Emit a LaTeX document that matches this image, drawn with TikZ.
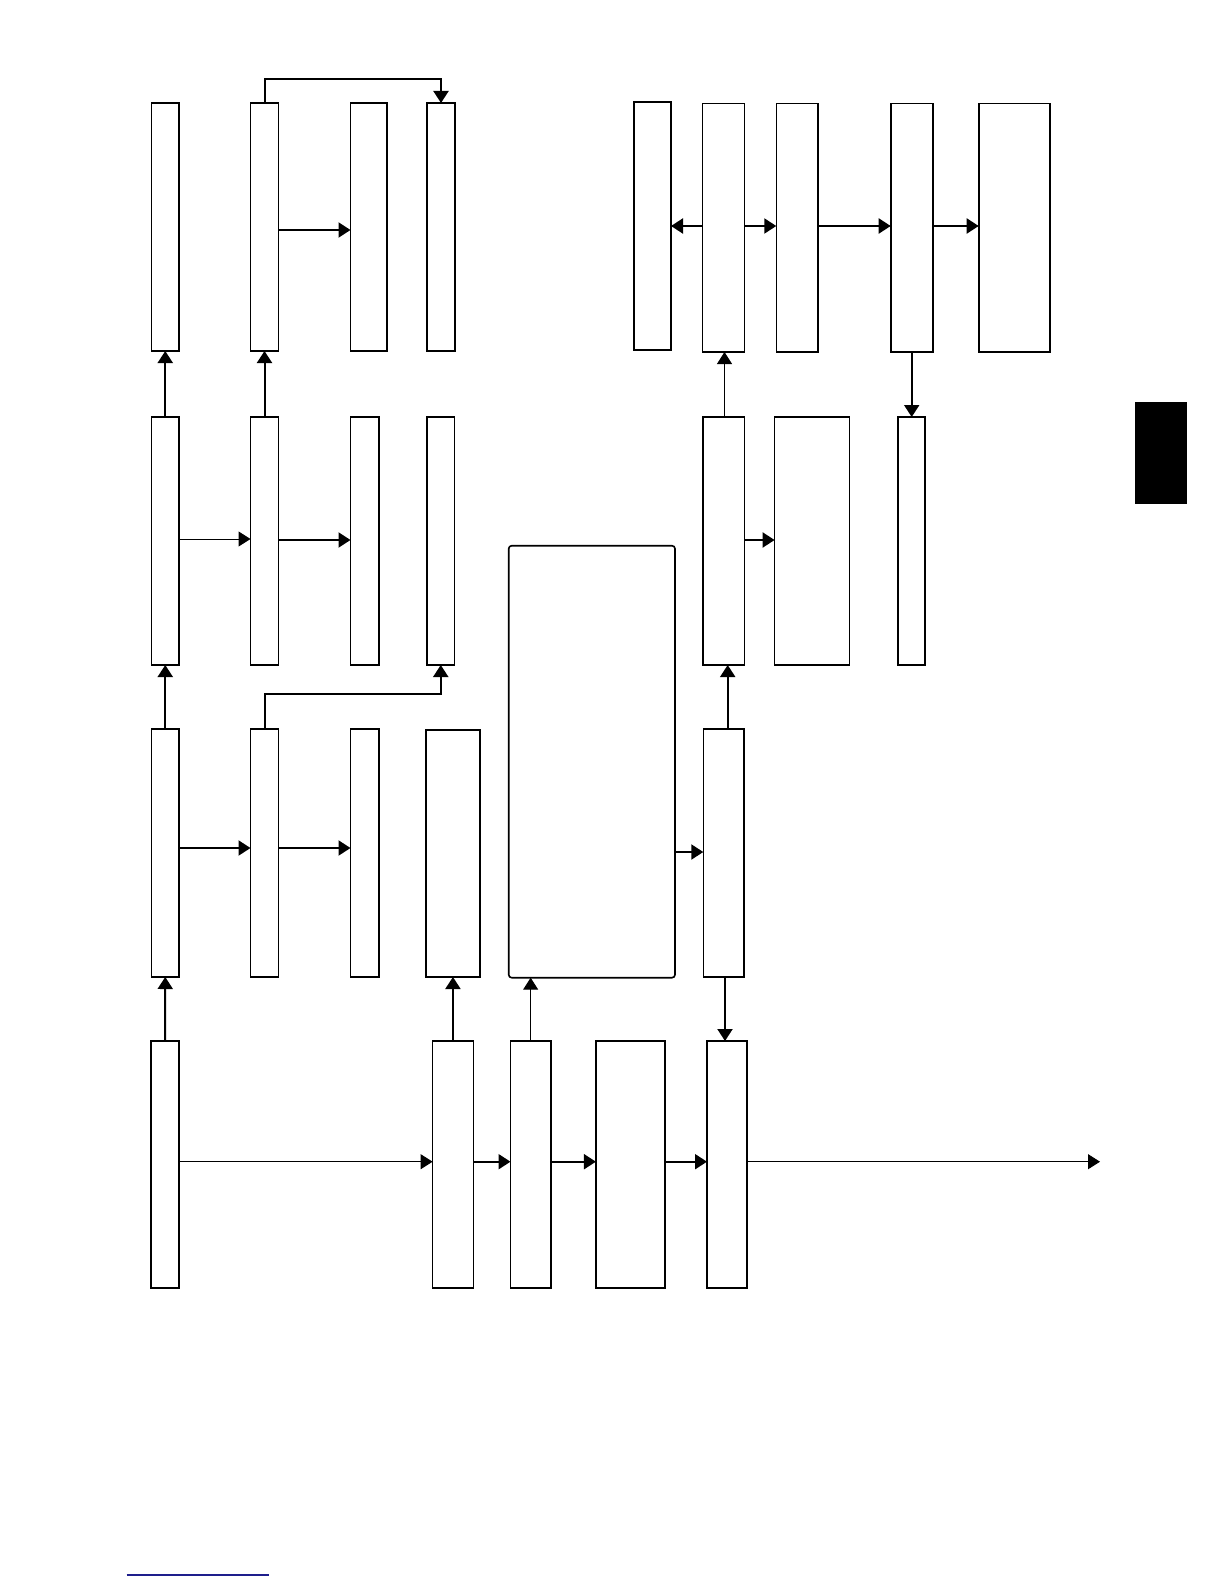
\documentclass[tikz,border=0pt]{standalone}
\usetikzlibrary{arrows.meta}
\tikzset{
  blk/.style={draw=black, line width=0.8pt, fill=white, inner sep=0pt, outer sep=0pt},
  thk/.style={line width=1pt, -{Triangle[length=6pt,width=7.5pt]}},
  thn/.style={line width=0.5pt, -{Triangle[length=6pt,width=7.5pt]}},
}
\newcommand{\bx}[6][]{%
  \node[blk,#1, minimum width={(#5-#3)*0.5pt}, minimum height={(#6-#4)*0.5pt}]
    (#2) at ({(#3+#5)/2},{(#4+#6)/2}) {};}
\begin{document}
\begin{tikzpicture}[x=0.5pt,y=-0.5pt]
\useasboundingbox (0,0) rectangle (1224,1584);
% Row 1
\bx{r1a}{151.5}{103}{179}{351}
\bx{r1b}{250.5}{103}{278.5}{351}
\bx{r1c}{350.5}{103}{387}{351}
\bx{r1d}{427}{103}{455}{351}
\bx{r1e}{634}{102}{671}{350}
\bx{r1f}{702.5}{103.5}{744.3}{352}
\bx{r1g}{776.3}{103.5}{818}{352}
\bx{r1h}{890.7}{103.5}{932.7}{352}
\bx{r1i}{978.7}{103.5}{1049.7}{352}
% Row 2
\bx{r2a}{151.5}{417}{179}{665}
\bx{r2b}{250.5}{417}{278.5}{665}
\bx{r2c}{350.5}{417}{378.7}{665}
\bx{r2d}{427}{417}{454.5}{665}
\bx{r2e}{702.7}{417}{744.5}{665}
\bx{r2f}{774.6}{417}{849.3}{665}
\bx{r2g}{897.8}{417}{925.1}{665}
% Row 3
\bx{r3a}{151.5}{729}{179}{977}
\bx{r3b}{250.5}{729}{278.5}{977}
\bx{r3c}{350.5}{729}{378.7}{977}
\bx{r3d}{426.2}{730}{479.7}{977}
\bx[rounded corners=1.5pt]{big}{508.7}{545.7}{675}{977.7}
\bx{r3e}{703.3}{729}{743.7}{977}
% Row 4
\bx{r4a}{151.1}{1041}{179.1}{1288}
\bx{r4b}{432.6}{1041}{473.3}{1288}
\bx{r4c}{510.5}{1041}{550.8}{1288}
\bx{r4d}{595.9}{1041}{665.1}{1288}
\bx{r4e}{707}{1041}{747}{1288}
% side tab
\fill[black] (1135,402) rectangle (1186.7,503.5);
% bottom blue rule
\draw[line width=0.6pt, draw={rgb,255:red,30;green,30;blue,140}] (126.7,1575) -- (269,1575);
\coordinate (outend) at (1100,1161.7);

% vertical arrows, left block
\draw[thk] (r4a.north) -- (r3a.south);
\draw[thk] (r3a.north) -- (r2a.south);
\draw[thk] (r2a.north) -- (r1a.south);
\draw[thk] (r2b.north) -- (r1b.south);
\draw[thk] (r1b.north) -- (r1b.north |- 0,79) -| (r1d.north);
\draw[thk] (r3b.north) -- (r3b.north |- 0,694) -| (r2d.south);
% horizontal arrows, left block
\draw[thk] (r1b.east |- 0,230) -- (r1c.west |- 0,230);
\draw[thn] (r2a.east |- 0,539) -- (r2b.west |- 0,539);
\draw[thk] (r2b.east |- 0,540) -- (r2c.west |- 0,540);
\draw[thk] (r3a.east |- 0,848) -- (r3b.west |- 0,848);
\draw[thk] (r3b.east |- 0,848) -- (r3c.west |- 0,848);
% bottom row
\draw[thn] (r4a.east |- 0,1161.7) -- (r4b.west |- 0,1161.7);
\draw[thk] (r4b.east |- 0,1161.7) -- (r4c.west |- 0,1161.7);
\draw[thk] (r4c.east |- 0,1161.7) -- (r4d.west |- 0,1161.7);
\draw[thk] (r4d.east |- 0,1161.7) -- (r4e.west |- 0,1161.7);
\draw[thn] (r4e.east |- 0,1161.7) -- (outend);
\draw[thk] (r4b.north) -- (r3d.south);
\draw[thn] (r4c.north) -- (big.south -| r4c.north);
% middle / right
\draw[thk] (big.east |- 0,852) -- (r3e.west |- 0,852);
\draw[thk] (r3e.south -| 725,0) -- (r4e.north -| 725,0);
\draw[thk] (r3e.north -| 727.7,0) -- (r2e.south -| 727.7,0);
\draw[thn] (r2e.north -| 724.5,0) -- (r1f.south -| 724.5,0);
\draw[thk] (r2e.east |- 0,540) -- (r2f.west |- 0,540);
\draw[thk] (r1f.west |- 0,226) -- (r1e.east |- 0,226);
\draw[thk] (r1f.east |- 0,226) -- (r1g.west |- 0,226);
\draw[thk] (r1g.east |- 0,226) -- (r1h.west |- 0,226);
\draw[thk] (r1h.east |- 0,226) -- (r1i.west |- 0,226);
\draw[thk] (r1h.south) -- (r2g.north -| r1h.south);
\end{tikzpicture}
\end{document}
